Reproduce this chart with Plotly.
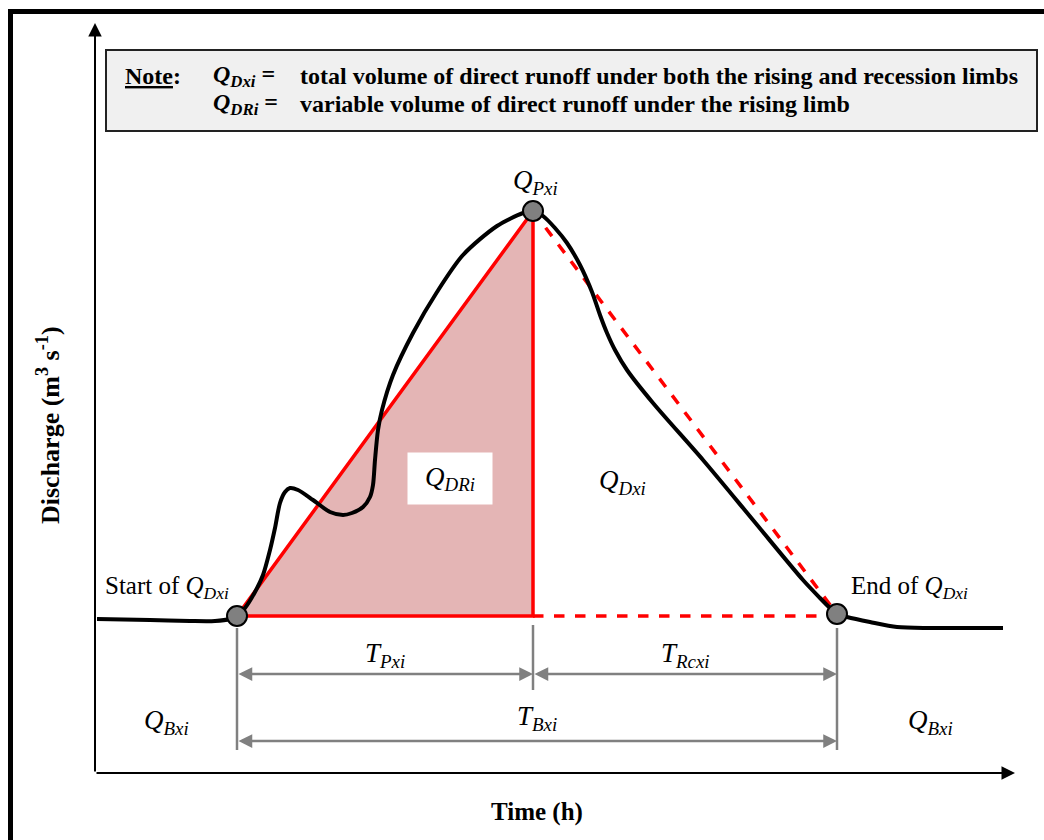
import plotly.graph_objects as go

# Hydrograph of one runoff event (time in h, discharge in m3/s, schematic units)
time_h = [0.2, 5.5, 9.5, 12.0, 13.5, 14.2,
          15.0, 16.0, 16.8, 17.5, 18.0, 18.5, 19.0, 19.5, 20.3, 21.8, 23.5, 24.8,
          25.7, 26.8, 27.5, 27.8, 28.0, 28.3, 28.7, 29.8, 31.8, 34.2, 36.8, 40.2,
          42.8, 43.8,
          44.8, 46.0, 47.2, 48.5, 49.7, 50.5, 51.2, 52.0, 53.2, 55.8, 60.8, 65.8,
          70.8, 72.5, 73.5, 74.2,
          75.2, 77.5, 80.2, 83.5, 90.8]
discharge = [15.4, 15.3, 15.2, 15.2, 15.4, 15.7,
             16.5, 18.1, 19.8, 22.3, 24.5, 27.0, 28.1, 28.5, 28.3, 27.3, 26.1, 25.8,
             26.0, 26.6, 27.6, 28.8, 31.3, 34.3, 36.3, 39.8, 44.0, 48.1, 51.8, 54.7,
             56.0, 56.2,
             55.7, 54.5, 53.0, 50.8, 48.1, 45.8, 44.0, 42.3, 40.3, 37.0, 31.3, 25.3,
             19.3, 17.5, 16.5, 15.9,
             15.6, 15.1, 14.6, 14.5, 14.5]

# Key points: start of direct runoff, peak, end of direct runoff
key_t = [14.2, 43.8, 74.2]
key_q = [15.7, 56.2, 15.9]
t_start, t_peak, t_end = key_t
q_start, q_peak, q_end = key_q
q_base = q_start

# Axis extents and dimension-line levels
t_axis_end = 92.0
q_axis_end = 75.0
q_dim_upper = 9.9
q_dim_lower = 3.2

FONT = "Liberation Serif"
RED = "#ff0000"
GRAY = "#808080"

fig = go.Figure()

# Rising-limb triangle (shaded)
fig.add_trace(go.Scatter(
    x=[t_start, t_peak, t_peak, t_start],
    y=[q_base, q_peak, q_base, q_base],
    mode="lines", fill="toself", fillcolor="#e4b5b5",
    line=dict(color=RED, width=3.5), hoverinfo="skip"))

# Recession-limb triangle (dashed)
fig.add_trace(go.Scatter(
    x=[t_peak, t_end], y=[q_peak, q_end],
    mode="lines", line=dict(color=RED, width=3.5, dash="dash"), hoverinfo="skip"))
fig.add_trace(go.Scatter(
    x=[t_peak, t_end], y=[q_base, q_base],
    mode="lines", line=dict(color=RED, width=3.5, dash="dash"), hoverinfo="skip"))

# Observed hydrograph
fig.add_trace(go.Scatter(
    x=time_h, y=discharge, mode="lines",
    line=dict(color="black", width=4, shape="spline", smoothing=0.8),
    hoverinfo="skip"))

# Vertical guides for the dimension lines
guide_tops = [q_base - 1.2, q_base - 0.9, q_end - 1.4]
guide_bottoms = [q_dim_lower - 0.9, q_dim_upper - 1.6, q_dim_lower - 0.9]
for t, top, bot in zip(key_t, guide_tops, guide_bottoms):
    fig.add_trace(go.Scatter(
        x=[t, t], y=[top, bot], mode="lines",
        line=dict(color=GRAY, width=2.5), hoverinfo="skip"))

# Start / peak / end markers
fig.add_trace(go.Scatter(
    x=key_t, y=key_q, mode="markers",
    marker=dict(size=20, color=GRAY, line=dict(color="black", width=2)),
    hoverinfo="skip"))

annotations = []


def arrow(x0, y0, x1, y1, color, width, size, both=False):
    annotations.append(dict(
        x=x1, y=y1, ax=x0, ay=y0, xref="x", yref="y", axref="x", ayref="y",
        text="", showarrow=True, arrowhead=2, startarrowhead=2,
        arrowsize=size, startarrowsize=size, arrowwidth=width, arrowcolor=color,
        arrowside="end+start" if both else "end", standoff=0, startstandoff=0))


# Axes with arrowheads
arrow(0, 0, 0, q_axis_end, "black", 2, 1.35)
arrow(0, 0, t_axis_end, 0, "black", 2, 1.35)

# Dimension arrows
arrow(t_start, q_dim_upper, t_peak, q_dim_upper, GRAY, 2.5, 1.1, both=True)
arrow(t_peak, q_dim_upper, t_end, q_dim_upper, GRAY, 2.5, 1.1, both=True)
arrow(t_start, q_dim_lower, t_end, q_dim_lower, GRAY, 2.5, 1.1, both=True)


def label(x, y, text, size=27, xanchor="center", **kw):
    d = dict(x=x, y=y, xref="x", yref="y", text=text, showarrow=False,
             xanchor=xanchor, yanchor="middle",
             font=dict(family=FONT, size=size, color="black"))
    d.update(kw)
    annotations.append(d)


def q_sym(sub):
    return f"<i>Q</i><sub><i>{sub}</i></sub>"


def t_sym(sub):
    return f"<i>T</i><sub><i>{sub}</i></sub>"


label(t_peak + 0.2, q_peak + 2.9, q_sym("Pxi"))
label(t_start - 0.6, q_base + 2.9, "Start of " + q_sym("Dxi"), size=25, xanchor="right")
label(t_end + 1.2, q_base + 2.9, "End of " + q_sym("Dxi"), size=25, xanchor="left")
label(35.5, 29.5, q_sym("DRi"), bgcolor="white", width=82, height=49)
label(52.7, 29.1, q_sym("Dxi"))
label((t_start + t_peak) / 2, q_dim_upper + 1.9, t_sym("Pxi"))
label((t_peak + t_end) / 2, q_dim_upper + 1.9, t_sym("Rcxi"))
label((t_start + t_end) / 2, q_dim_lower + 2.3, t_sym("Bxi"))
label(t_start / 2, q_dim_lower + 1.9, q_sym("Bxi"))
label((t_end + t_axis_end) / 2 + 0.4, q_dim_lower + 1.9, q_sym("Bxi"))

# Axis titles
label((t_start + t_end) / 2, -3.9, "<b>Time (h)</b>", size=25)
label(-4.7, 34.8, "<b>Discharge (m<sup>3</sup> s<sup>-1</sup>)</b>", size=26,
      textangle=-90)

# Note box text (paper coordinates)
W, H = 1044, 840


def note(px, py, text):
    annotations.append(dict(
        x=px / W, y=1 - py / H, xref="paper", yref="paper", text=text,
        showarrow=False, xanchor="left", yanchor="middle",
        font=dict(family=FONT, size=24, color="black")))


note(123, 76, "<b><u>Note</u>:</b>")
note(211, 76, "<b><i>Q</i><sub><i>Dxi</i></sub> =</b>")
note(298, 76, "<b>total volume of direct runoff under both the rising and recession limbs</b>")
note(211, 104, "<b><i>Q</i><sub><i>DRi</i></sub> =</b>")
note(298, 104, "<b>variable volume of direct runoff under the rising limb</b>")

shapes = [
    # outer frame
    dict(type="rect", xref="paper", yref="paper",
         x0=10.5 / W, x1=1.02, y0=-0.02, y1=1 - 11.5 / H,
         line=dict(color="black", width=5), fillcolor="rgba(0,0,0,0)", layer="below"),
    # note box
    dict(type="rect", xref="paper", yref="paper",
         x0=106 / W, x1=1037 / W, y0=1 - 131 / H, y1=1 - 50 / H,
         line=dict(color="#222222", width=2), fillcolor="#f0f0f0", layer="below"),
]

fig.update_layout(
    width=W, height=H,
    margin=dict(l=0, r=0, t=0, b=0),
    paper_bgcolor="white", plot_bgcolor="white",
    showlegend=False,
    xaxis=dict(range=[-9.5, 94.9], visible=False, fixedrange=True),
    yaxis=dict(range=[-6.7, 77.3], visible=False, fixedrange=True),
    annotations=annotations, shapes=shapes,
)

fig.write_html("out.html")
